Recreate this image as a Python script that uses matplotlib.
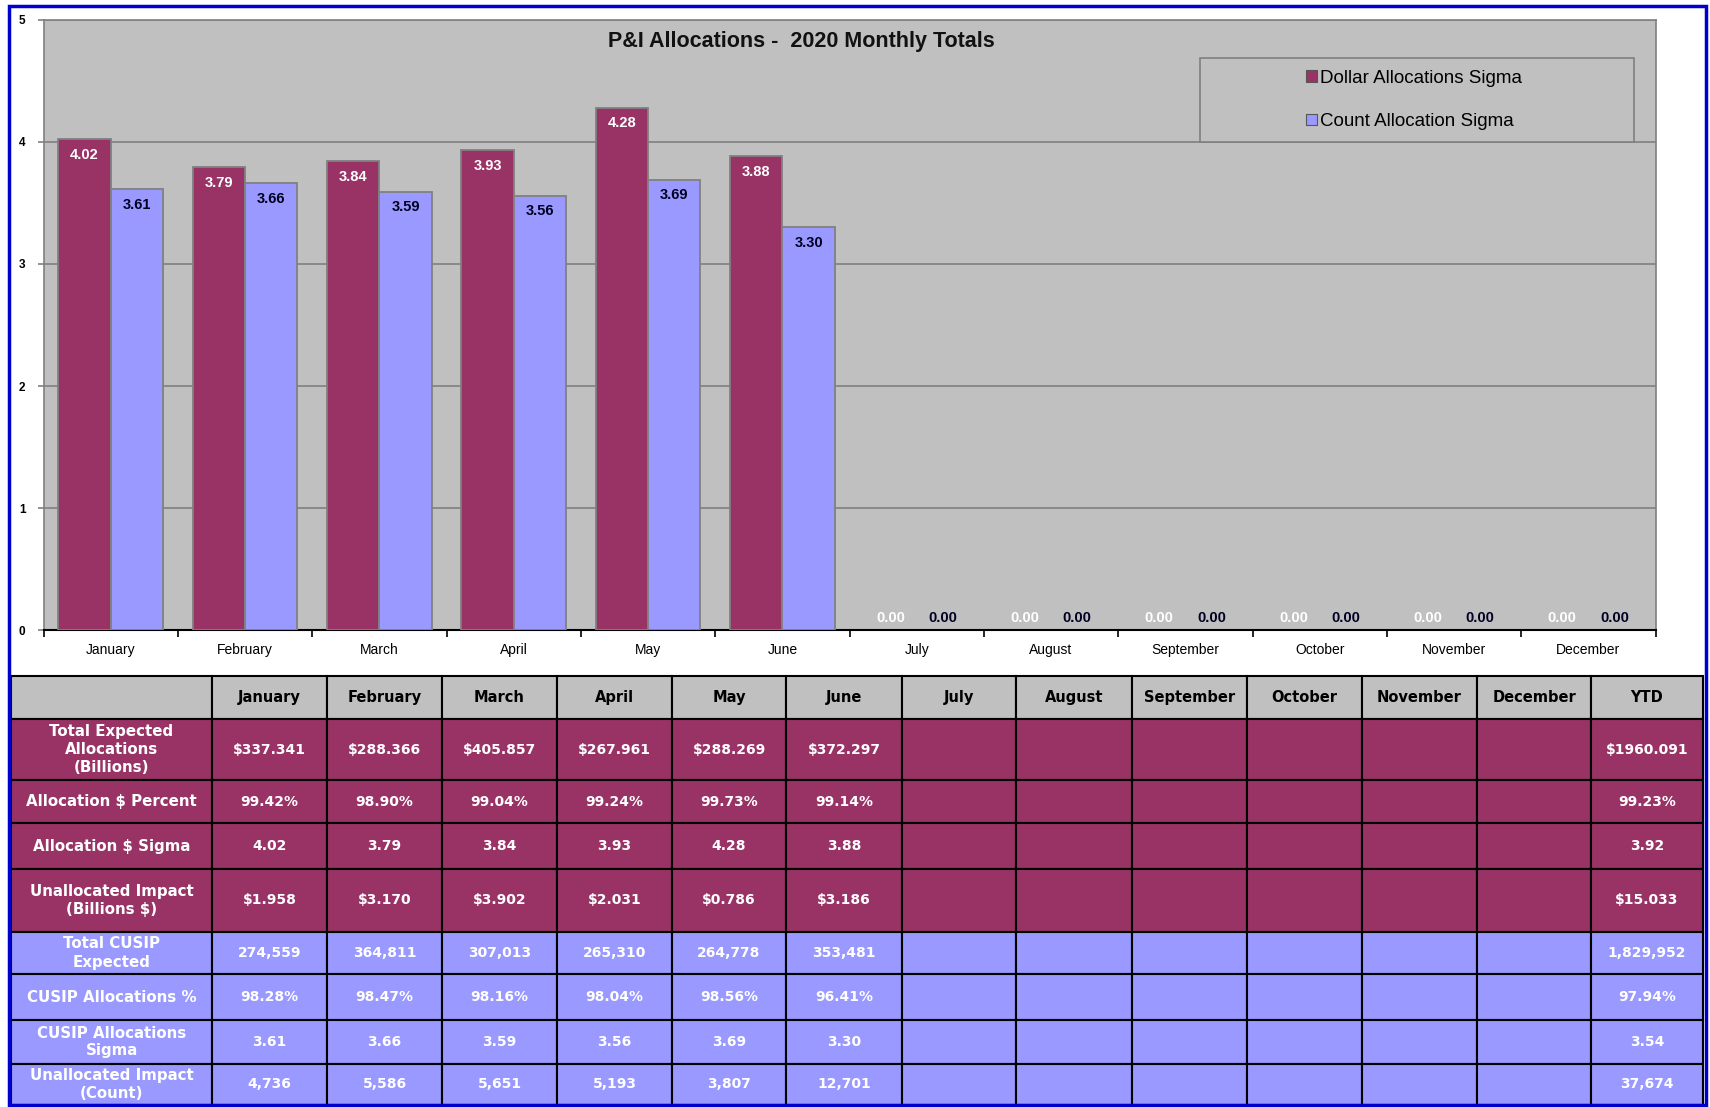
import matplotlib.pyplot as plt
from matplotlib.patches import Rectangle
import numpy as np

plt.rcParams['font.family'] = ['Liberation Sans', 'DejaVu Sans']

months = ['January', 'February', 'March', 'April', 'May', 'June',
          'July', 'August', 'September', 'October', 'November', 'December']
dollar_sigma = [4.02, 3.79, 3.84, 3.93, 4.28, 3.88, 0, 0, 0, 0, 0, 0]
count_sigma = [3.61, 3.66, 3.59, 3.56, 3.69, 3.30, 0, 0, 0, 0, 0, 0]

# table data (blank for months not yet reported)
blank = [''] * 6
table_cols = months + ['YTD']
row_labels = ['Total Expected\nAllocations\n(Billions)', 'Allocation $ Percent',
              'Allocation $ Sigma', 'Unallocated Impact\n(Billions $)',
              'Total CUSIP\nExpected', 'CUSIP Allocations %',
              'CUSIP Allocations\nSigma', 'Unallocated Impact\n(Count)']
total_expected = ['$337.341', '$288.366', '$405.857', '$267.961', '$288.269', '$372.297'] + blank + ['$1960.091']
alloc_pct = ['99.42%', '98.90%', '99.04%', '99.24%', '99.73%', '99.14%'] + blank + ['99.23%']
alloc_sigma = ['4.02', '3.79', '3.84', '3.93', '4.28', '3.88'] + blank + ['3.92']
unalloc_bn = ['$1.958', '$3.170', '$3.902', '$2.031', '$0.786', '$3.186'] + blank + ['$15.033']
cusip_total = ['274,559', '364,811', '307,013', '265,310', '264,778', '353,481'] + blank + ['1,829,952']
cusip_pct = ['98.28%', '98.47%', '98.16%', '98.04%', '98.56%', '96.41%'] + blank + ['97.94%']
cusip_sigma = ['3.61', '3.66', '3.59', '3.56', '3.69', '3.30'] + blank + ['3.54']
unalloc_cnt = ['4,736', '5,586', '5,651', '5,193', '3,807', '12,701'] + blank + ['37,674']
table_rows = [total_expected, alloc_pct, alloc_sigma, unalloc_bn,
              cusip_total, cusip_pct, cusip_sigma, unalloc_cnt]

DOLLAR = '#993366'
COUNT = '#9999FF'
GREY = '#C0C0C0'

W, H = 1710, 1107
fig = plt.figure(figsize=(W / 100, H / 100), dpi=100, facecolor='white')

# pixel-space overlay for table and frame
bg = fig.add_axes([0, 0, 1, 1])
bg.set_xlim(0, W)
bg.set_ylim(H, 0)
bg.axis('off')

col_edges = [11, 212, 327, 442, 557, 672, 786, 902, 1016, 1132, 1247, 1362, 1477, 1591, 1703]
row_edges = [676, 719, 780, 823, 869, 932, 974, 1020, 1064, 1105]

tkw = dict(family='DejaVu Sans', weight='bold', ha='center', va='center',
           parse_math=False, linespacing=1.25)
# header row
for c in range(len(col_edges) - 1):
    x0, x1 = col_edges[c], col_edges[c + 1]
    y0, y1 = row_edges[0], row_edges[1]
    bg.add_patch(Rectangle((x0, y0), x1 - x0, y1 - y0, facecolor=GREY, edgecolor='black', lw=1.5))
    if c > 0:
        bg.text((x0 + x1) / 2, (y0 + y1) / 2, table_cols[c - 1], color='black', fontsize=10.5, **tkw)
# body
for r, vals in enumerate(table_rows):
    fc = DOLLAR if r < 4 else COUNT
    y0, y1 = row_edges[r + 1], row_edges[r + 2]
    for c in range(len(col_edges) - 1):
        x0, x1 = col_edges[c], col_edges[c + 1]
        bg.add_patch(Rectangle((x0, y0), x1 - x0, y1 - y0, facecolor=fc, edgecolor='black', lw=1.5))
        if c == 0:
            bg.text((x0 + x1) / 2, (y0 + y1) / 2, row_labels[r], color='white', fontsize=10.8, **tkw)
        elif vals[c - 1]:
            bg.text((x0 + x1) / 2, (y0 + y1) / 2, vals[c - 1], color='white', fontsize=10, **tkw)

# blue frame
bg.add_patch(Rectangle((9, 6), 1697, 1099, facecolor='none', edgecolor='#0000CC', lw=2.5))

# chart
ax = fig.add_axes([43.6 / W, 1 - 630.4 / H, 1611.9 / W, 610.8 / H])
ax.set_facecolor(GREY)
x = np.arange(len(months))
bw = 0.39
lw1 = [1.3 if v > 0 else 0 for v in dollar_sigma]
lw2 = [1.3 if v > 0 else 0 for v in count_sigma]
ax.bar(x - bw / 2, dollar_sigma, bw, color=DOLLAR, edgecolor='#808080', linewidth=lw1,
       label='Dollar Allocations Sigma', zorder=3)
ax.bar(x + bw / 2, count_sigma, bw, color=COUNT, edgecolor='#808080', linewidth=lw2,
       label='Count Allocation Sigma', zorder=3)

for xs, vals, col in [(x - bw / 2, dollar_sigma, 'white'), (x + bw / 2, count_sigma, '#000022')]:
    for xi, v in zip(xs, vals):
        off = -11 if v > 0 else 9
        ax.annotate(f'{v:.2f}', (xi, v), xytext=(0, off), textcoords='offset points',
                    ha='center', va='center', fontsize=10.5, fontweight='bold', color=col, zorder=4)

ax.set_xlim(-0.5, len(months) - 0.5)
ax.set_ylim(0, 5)
ax.set_yticks(range(6))
ax.yaxis.grid(True, color='#808080', lw=1.2, zorder=0)
ax.set_axisbelow(True)
for s in ['top', 'right', 'left']:
    ax.spines[s].set_color('#808080')
    ax.spines[s].set_linewidth(1.2)
ax.spines['bottom'].set_color('black')
ax.spines['bottom'].set_linewidth(1.5)

ax.set_xticks(x)
ax.set_xticklabels(months, fontsize=10)
ax.set_xticks(np.arange(-0.5, len(months)), minor=True)
ax.tick_params(axis='x', which='major', length=0, pad=9)
ax.tick_params(axis='x', which='minor', length=5, width=1.2, color='black', direction='out')
ax.tick_params(axis='y', length=4, width=1.2, color='#808080', labelsize=8.5, pad=9)
for t in ax.get_yticklabels():
    t.set_fontweight('bold')

fig.text(801 / W, 1 - 41 / H, 'P&I Allocations -  2020 Monthly Totals', ha='center', va='center',
         fontsize=15.5, fontweight='bold', color='#111111')

# legend box and entries
lx0, lx1, ly0, ly1 = 1200, 1634, 58, 142
ax.add_patch(Rectangle((lx0 / W, 1 - ly1 / H), (lx1 - lx0) / W, (ly1 - ly0) / H,
                       transform=fig.transFigure, facecolor=GREY, edgecolor='#808080',
                       lw=1.2, zorder=5, clip_on=False))
leg = ax.legend(loc='center', bbox_to_anchor=(1414 / W, 1 - 100 / H), bbox_transform=fig.transFigure,
                frameon=False, fontsize=13.5, handlelength=0.6, handleheight=0.6,
                handletextpad=0.15, labelspacing=1.4)
leg.set_zorder(6)
for h in leg.legend_handles:
    h.set_edgecolor('#555555')
    h.set_linewidth(0.8)

fig.savefig('out.png', dpi=100, facecolor='white')
